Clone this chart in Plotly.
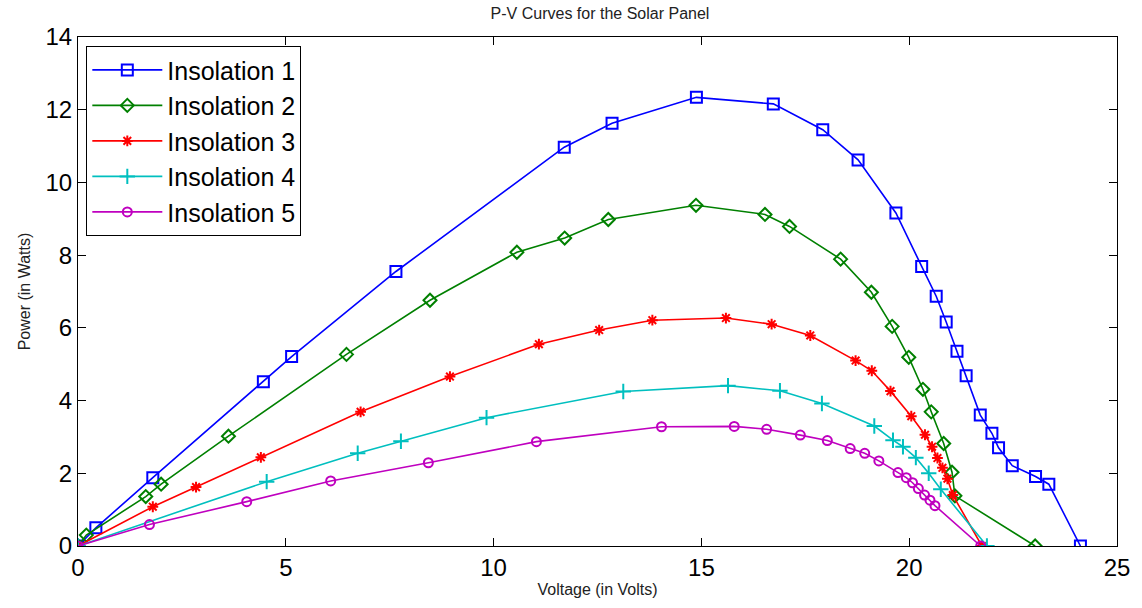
import plotly.graph_objects as go

# ---- data ----
v1 = [0, 0.43, 1.80, 4.46, 5.14, 7.65, 11.70, 12.85, 14.88, 16.73, 17.92, 18.77, 19.68,
      20.30, 20.65, 20.89, 21.15, 21.37, 21.71, 21.99, 22.15, 22.48, 23.04, 23.36, 24.12]
p1 = [0, 0.50, 1.88, 4.52, 5.21, 7.55, 10.97, 11.63, 12.34, 12.16, 11.45, 10.62, 9.16,
      7.69, 6.87, 6.16, 5.36, 4.68, 3.60, 3.10, 2.70, 2.21, 1.91, 1.70, 0]

v2 = [0, 0.20, 1.63, 2.00, 3.62, 6.46, 8.47, 10.56, 11.71, 12.76, 14.87, 16.53, 17.12,
      18.35, 19.09, 19.59, 19.99, 20.33, 20.53, 20.83, 21.03, 21.10, 23.03]
p2 = [0, 0.30, 1.36, 1.70, 3.02, 5.27, 6.76, 8.08, 8.47, 8.98, 9.37, 9.12, 8.79,
      7.89, 6.98, 6.04, 5.19, 4.31, 3.69, 2.82, 2.03, 1.38, 0]

v3 = [0, 1.80, 2.84, 4.40, 6.80, 8.95, 11.09, 12.54, 13.82, 15.59, 16.69, 17.62, 18.71,
      19.10, 19.55, 20.05, 20.38, 20.55, 20.68, 20.80, 20.92, 21.05, 21.75]
p3 = [0, 1.08, 1.62, 2.44, 3.69, 4.66, 5.55, 5.94, 6.21, 6.27, 6.10, 5.79, 5.10,
      4.82, 4.26, 3.57, 3.06, 2.73, 2.42, 2.15, 1.85, 1.40, 0]

v4 = [0, 4.54, 6.73, 7.77, 9.83, 13.12, 15.64, 16.89, 17.90, 19.16, 19.61, 19.85,
      20.16, 20.47, 20.76, 21.87]
p4 = [0, 1.77, 2.55, 2.88, 3.53, 4.25, 4.41, 4.27, 3.92, 3.30, 2.91, 2.73,
      2.43, 2.00, 1.56, 0]

v5 = [0, 1.72, 4.06, 6.08, 8.43, 11.03, 14.04, 15.79, 16.57, 17.38, 18.03, 18.58, 18.93,
      19.27, 19.73, 19.93, 20.08, 20.22, 20.37, 20.50, 20.62, 21.72]
p5 = [0, 0.59, 1.22, 1.79, 2.29, 2.87, 3.28, 3.29, 3.21, 3.05, 2.90, 2.68, 2.55,
      2.34, 2.02, 1.88, 1.74, 1.58, 1.40, 1.26, 1.11, 0]

names = ["Insolation 1", "Insolation 2", "Insolation 3", "Insolation 4", "Insolation 5"]
xticks = [0, 5, 10, 15, 20, 25]
yticks = [0, 2, 4, 6, 8, 10, 12, 14]

series = [(v1, p1), (v2, p2), (v3, p3), (v4, p4), (v5, p5)]
colors = ["#0000ff", "#008000", "#ff0000", "#00bfbf", "#bf00bf"]
symbols = ["square-open", "diamond-open", "asterisk-open", "cross-thin-open", "circle-open"]
msizes = [11, 10, 9, 11, 9]

fig = go.Figure()
for (vx, py), name, c, s, ms in zip(series, names, colors, symbols, msizes):
    fig.add_trace(go.Scatter(
        x=vx, y=py, name=name, mode="lines+markers",
        line=dict(color=c, width=1.6),
        marker=dict(symbol=s, size=ms, color=c, line=dict(color=c, width=2)),
    ))

FONT = "Liberation Sans, Arial"
axis_common = dict(
    showline=True, linecolor="black", linewidth=1, mirror="ticks",
    ticks="inside", ticklen=8, tickcolor="black", showgrid=False, zeroline=False,
    tickfont=dict(family=FONT, size=24, color="black"),
)

fig.update_layout(
    width=1142, height=608,
    margin=dict(l=78, r=20, t=37, b=60),
    paper_bgcolor="white", plot_bgcolor="white",
    title=dict(text="P-V Curves for the Solar Panel", x=0.5254, xanchor="center",
               y=0.978, yanchor="middle",
               font=dict(family=FONT, size=16, color="#222")),
    xaxis=dict(range=[0, 25], tickvals=xticks, **axis_common,
               title=dict(text="Voltage (in Volts)", standoff=4,
                          font=dict(family=FONT, size=16, color="#222"))),
    yaxis=dict(range=[0, 14], tickvals=yticks, **axis_common,
               title=dict(text="Power (in Watts)", standoff=10,
                          font=dict(family=FONT, size=16, color="#222"))),
    legend=dict(x=0.008, y=0.982, xanchor="left", yanchor="top",
                bgcolor="white", bordercolor="black", borderwidth=1,
                itemwidth=70,
                font=dict(family=FONT, size=25, color="black")),
    showlegend=True,
)

fig.write_html("out.html")
